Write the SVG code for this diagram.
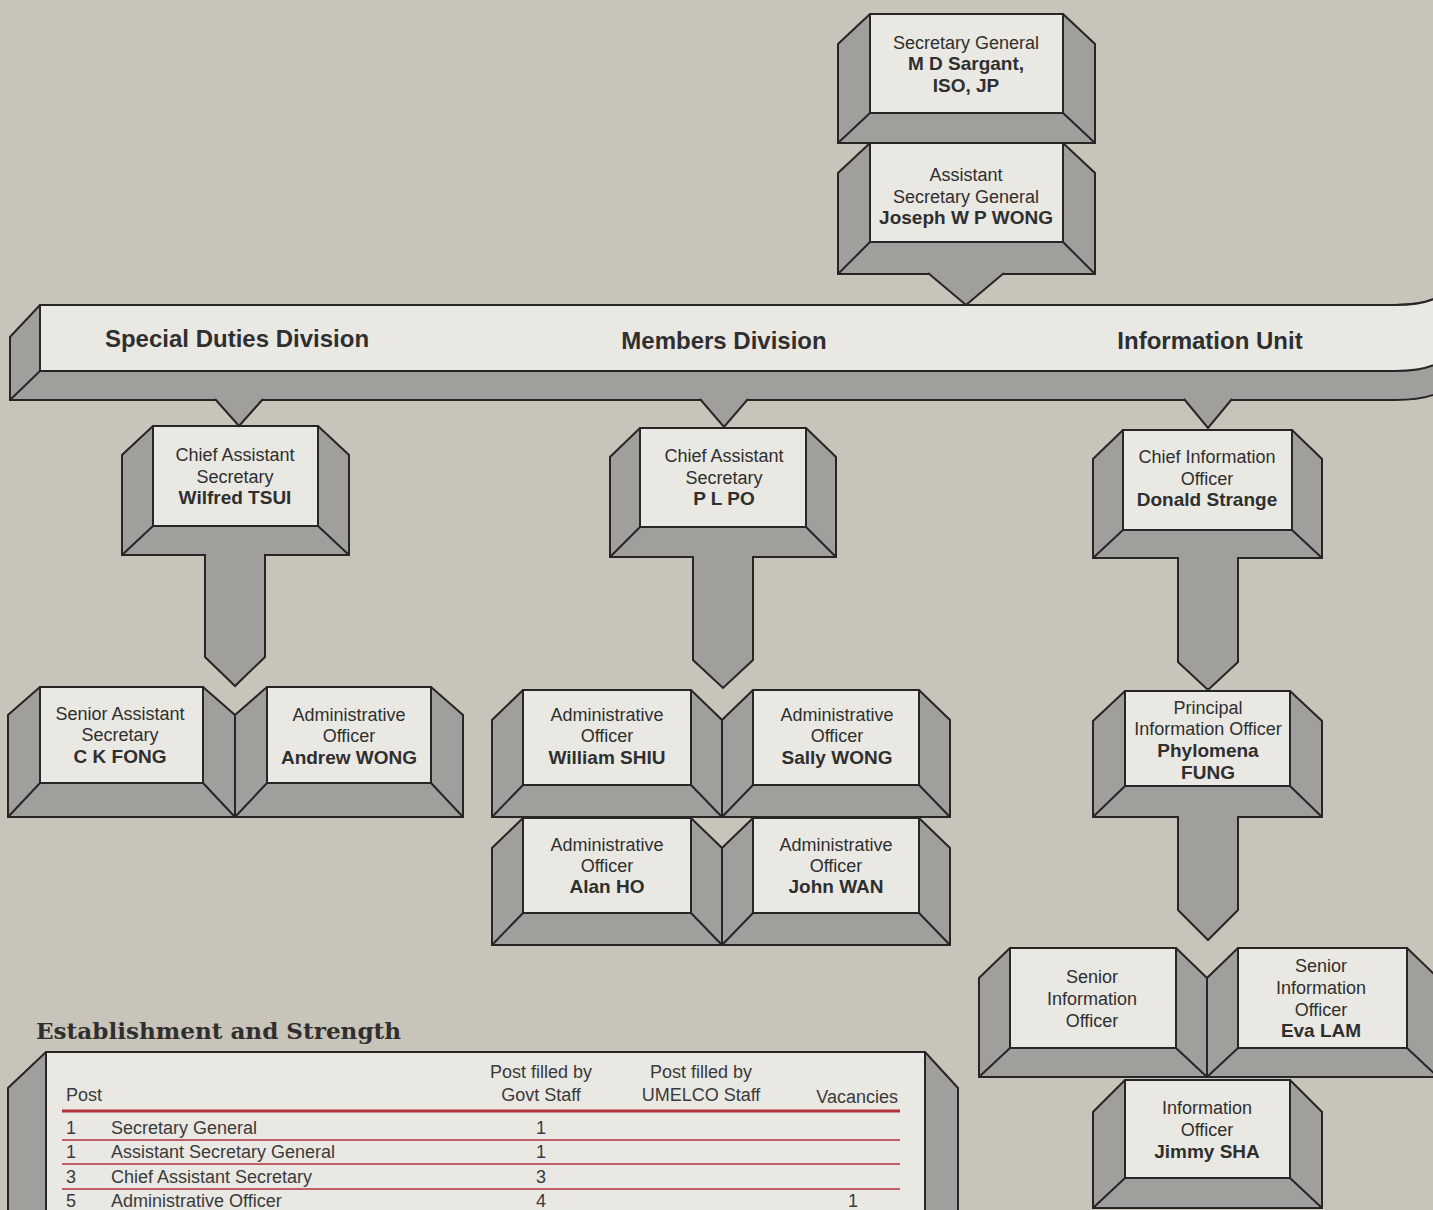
<svg xmlns="http://www.w3.org/2000/svg" width="1433" height="1210" viewBox="0 0 1433 1210">
<style>
.bg{fill:#c9c4b9}
.bev{fill:#a09f9c;stroke:#262626;stroke-width:2;stroke-linejoin:miter}
.face{fill:#e9e8e3;stroke:#262626;stroke-width:2}
.ln{fill:none;stroke:#262626;stroke-width:2}
.con{fill:#a09f9c;stroke:#262626;stroke-width:2;stroke-linejoin:miter}
text{font-family:"Liberation Sans",Arial,sans-serif;fill:#2f2f2f;text-anchor:middle}
.t{font-size:18px}
.n{font-size:19px;font-weight:bold}
.div{font-size:24px;font-weight:bold}
.ttl{font-family:"DejaVu Serif","Liberation Serif",serif;font-size:22px;font-weight:bold;text-anchor:start}
.tb{font-size:18px;fill:#3a3a3a}
.st{text-anchor:start}
.en{text-anchor:end}
.red{stroke:#b3303d;fill:none}
</style>
<rect class="bg" x="0" y="0" width="1433" height="1210"/>

<g id="node-secretary-general">
<path class="bev" d="M870,14 H1063 L1095,44 V143 H838 V44 Z"/>
<rect class="face" x="870" y="14" width="193" height="99"/>
<path class="ln" d="M870,113 L838,143 M1063,113 L1095,143"/>
<text class="t" x="966" y="49">Secretary General</text>
<text class="n" x="966" y="70">M D Sargant,</text>
<text class="n" x="966" y="92">ISO, JP</text>
</g>

<g id="node-assistant-secretary-general">
<path class="bev" d="M870,143 H1063 L1095,173 V274 H838 V173 Z"/>
<rect class="face" x="870" y="143" width="193" height="99"/>
<path class="ln" d="M870,242 L838,274 M1063,242 L1095,274"/>
<text class="t" x="966" y="181">Assistant</text>
<text class="t" x="966" y="203">Secretary General</text>
<text class="n" x="966" y="224">Joseph W P WONG</text>
</g>

<g id="node-divisions">
<path class="bev" d="M40,305 H1395 Q1425,305 1440,296 V392 Q1425,400 1395,400 H10 V337 Z"/>
<path class="face" d="M40,305 H1395 Q1425,305 1440,296 V362 Q1425,371 1395,371 H40 Z"/>
<path class="ln" d="M40,371 L10,400"/>
<text class="div" x="237" y="347">Special Duties Division</text>
<text class="div" x="724" y="349">Members Division</text>
<text class="div" x="1210" y="349">Information Unit</text>
</g>

<g id="node-cas-wilfred-tsui">
<path class="bev" d="M153,426 H318 L349,455 V555 H122 V455 Z"/>
<rect class="face" x="153" y="426" width="165" height="100"/>
<path class="ln" d="M153,526 L122,555 M318,526 L349,555"/>
<text class="t" x="235" y="461">Chief Assistant</text>
<text class="t" x="235" y="483">Secretary</text>
<text class="n" x="235" y="504">Wilfred TSUI</text>
</g>

<g id="node-cas-pl-po">
<path class="bev" d="M640,428 H806 L836,457 V557 H610 V457 Z"/>
<rect class="face" x="640" y="428" width="166" height="99"/>
<path class="ln" d="M640,527 L610,557 M806,527 L836,557"/>
<text class="t" x="724" y="462">Chief Assistant</text>
<text class="t" x="724" y="484">Secretary</text>
<text class="n" x="724" y="505">P L PO</text>
</g>

<g id="node-cio-donald-strange">
<path class="bev" d="M1123,430 H1292 L1322,459 V558 H1093 V459 Z"/>
<rect class="face" x="1123" y="430" width="169" height="100"/>
<path class="ln" d="M1123,530 L1093,558 M1292,530 L1322,558"/>
<text class="t" x="1207" y="463">Chief Information</text>
<text class="t" x="1207" y="485">Officer</text>
<text class="n" x="1207" y="506">Donald Strange</text>
</g>

<g id="node-sas-ck-fong">
<path class="bev" d="M40,687 H203 L235,715 V817 H8 V715 Z"/>
<rect class="face" x="40" y="687" width="163" height="96"/>
<path class="ln" d="M40,783 L8,817 M203,783 L235,817"/>
<text class="t" x="120" y="720">Senior Assistant</text>
<text class="t" x="120" y="741">Secretary</text>
<text class="n" x="120" y="763">C K FONG</text>
</g>

<g id="node-ao-andrew-wong">
<path class="bev" d="M267,687 H431 L463,715 V817 H235 V715 Z"/>
<rect class="face" x="267" y="687" width="164" height="96"/>
<path class="ln" d="M267,783 L235,817 M431,783 L463,817"/>
<text class="t" x="349" y="721">Administrative</text>
<text class="t" x="349" y="742">Officer</text>
<text class="n" x="349" y="764">Andrew WONG</text>
</g>

<g id="node-ao-william-shiu">
<path class="bev" d="M523,690 H691 L722,720 V817 H492 V720 Z"/>
<rect class="face" x="523" y="690" width="168" height="95"/>
<path class="ln" d="M523,785 L492,817 M691,785 L722,817"/>
<text class="t" x="607" y="721">Administrative</text>
<text class="t" x="607" y="742">Officer</text>
<text class="n" x="607" y="764">William SHIU</text>
</g>

<g id="node-ao-sally-wong">
<path class="bev" d="M753,690 H919 L950,720 V817 H722 V720 Z"/>
<rect class="face" x="753" y="690" width="166" height="95"/>
<path class="ln" d="M753,785 L722,817 M919,785 L950,817"/>
<text class="t" x="837" y="721">Administrative</text>
<text class="t" x="837" y="742">Officer</text>
<text class="n" x="837" y="764">Sally WONG</text>
</g>

<g id="node-ao-alan-ho">
<path class="bev" d="M523,818 H691 L722,848 V945 H492 V848 Z"/>
<rect class="face" x="523" y="818" width="168" height="95"/>
<path class="ln" d="M523,913 L492,945 M691,913 L722,945"/>
<text class="t" x="607" y="851">Administrative</text>
<text class="t" x="607" y="872">Officer</text>
<text class="n" x="607" y="893">Alan HO</text>
</g>

<g id="node-ao-john-wan">
<path class="bev" d="M753,818 H919 L950,848 V945 H722 V848 Z"/>
<rect class="face" x="753" y="818" width="166" height="95"/>
<path class="ln" d="M753,913 L722,945 M919,913 L950,945"/>
<text class="t" x="836" y="851">Administrative</text>
<text class="t" x="836" y="872">Officer</text>
<text class="n" x="836" y="893">John WAN</text>
</g>

<g id="node-pio-phylomena-fung">
<path class="bev" d="M1125,691 H1290 L1322,721 V817 H1093 V721 Z"/>
<rect class="face" x="1125" y="691" width="165" height="95"/>
<path class="ln" d="M1125,786 L1093,817 M1290,786 L1322,817"/>
<text class="t" x="1208" y="714">Principal</text>
<text class="t" x="1208" y="735">Information Officer</text>
<text class="n" x="1208" y="757">Phylomena</text>
<text class="n" x="1208" y="779">FUNG</text>
</g>

<g id="node-sio-vacant">
<path class="bev" d="M1010,948 H1176 L1207,978 V1077 H979 V978 Z"/>
<rect class="face" x="1010" y="948" width="166" height="100"/>
<path class="ln" d="M1010,1048 L979,1077 M1176,1048 L1207,1077"/>
<text class="t" x="1092" y="983">Senior</text>
<text class="t" x="1092" y="1005">Information</text>
<text class="t" x="1092" y="1027">Officer</text>
</g>

<g id="node-sio-eva-lam">
<path class="bev" d="M1238,948 H1407 L1438,978 V1077 H1207 V978 Z"/>
<rect class="face" x="1238" y="948" width="169" height="100"/>
<path class="ln" d="M1238,1048 L1207,1077 M1407,1048 L1438,1077"/>
<text class="t" x="1321" y="972">Senior</text>
<text class="t" x="1321" y="994">Information</text>
<text class="t" x="1321" y="1016">Officer</text>
<text class="n" x="1321" y="1037">Eva LAM</text>
</g>

<g id="node-io-jimmy-sha">
<path class="bev" d="M1125,1080 H1290 L1322,1112 V1208 H1093 V1112 Z"/>
<rect class="face" x="1125" y="1080" width="165" height="98"/>
<path class="ln" d="M1125,1178 L1093,1208 M1290,1178 L1322,1208"/>
<text class="t" x="1207" y="1114">Information</text>
<text class="t" x="1207" y="1136">Officer</text>
<text class="n" x="1207" y="1158">Jimmy SHA</text>
</g>

<g id="connectors">
<path class="con" d="M928,273 L966,305 L1004,273"/>
<path class="con" d="M215,399 L239,426 L263,399"/>
<path class="con" d="M700,399 L724,427 L748,399"/>
<path class="con" d="M1184,399 L1208,428 L1232,399"/>
<path class="con" d="M205,554 V657 L235,686 L265,657 V554"/>
<path class="con" d="M693,556 V660 L723,688 L753,660 V556"/>
<path class="con" d="M1178,557 V662 L1208,690 L1238,662 V557"/>
<path class="con" d="M1178,816 V910 L1208,940 L1238,910 V816"/>
</g>

<g id="table">
<text class="ttl" x="36" y="1039" textLength="365" lengthAdjust="spacingAndGlyphs">Establishment and Strength</text>
<path class="bev" d="M46,1052 H925 L958,1088 V1215 H8 V1088 Z"/>
<rect class="face" x="46" y="1052" width="879" height="165"/>
<text class="tb st" x="66" y="1101">Post</text>
<text class="tb" x="541" y="1078">Post filled by</text>
<text class="tb" x="541" y="1101">Govt Staff</text>
<text class="tb" x="701" y="1078">Post filled by</text>
<text class="tb" x="701" y="1101">UMELCO Staff</text>
<text class="tb en" x="898" y="1103">Vacancies</text>
<path class="red" stroke-width="3" d="M62,1111 H900"/>
<path class="red" stroke-width="1.6" d="M62,1140 H900 M62,1164 H900 M62,1189 H900"/>
<text class="tb st" x="66" y="1134">1</text>
<text class="tb st" x="111" y="1134">Secretary General</text>
<text class="tb" x="541" y="1134">1</text>
<text class="tb st" x="66" y="1158">1</text>
<text class="tb st" x="111" y="1158">Assistant Secretary General</text>
<text class="tb" x="541" y="1158">1</text>
<text class="tb st" x="66" y="1183">3</text>
<text class="tb st" x="111" y="1183">Chief Assistant Secretary</text>
<text class="tb" x="541" y="1183">3</text>
<text class="tb st" x="66" y="1207">5</text>
<text class="tb st" x="111" y="1207">Administrative Officer</text>
<text class="tb" x="541" y="1207">4</text>
<text class="tb" x="853" y="1207">1</text>
</g>
</svg>
